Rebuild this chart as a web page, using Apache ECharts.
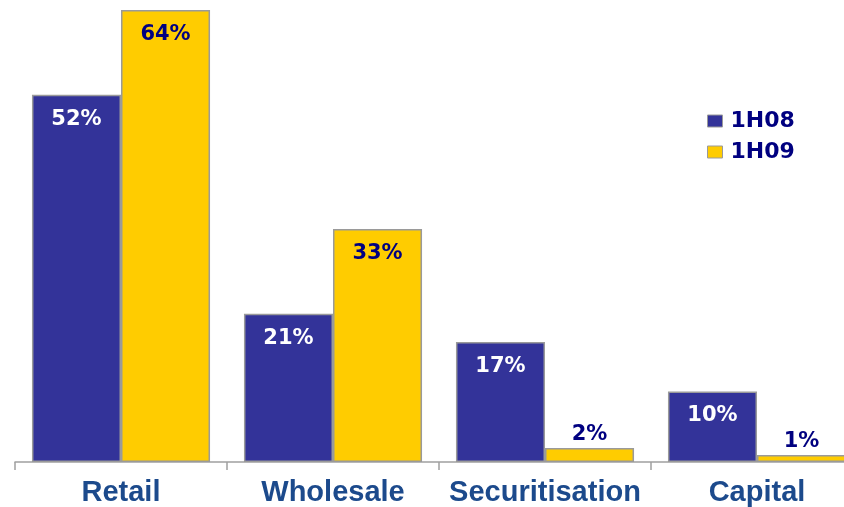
<!DOCTYPE html>
<html>
<head>
<meta charset="utf-8">
<script src="https://cdn.jsdelivr.net/npm/echarts@6/dist/echarts.min.js"></script>
<style>
  html, body { margin: 0; padding: 0; background: #fff; overflow: hidden; }
  /* the plot runs a little past the right edge of the page */
  #chart { width: 863px; height: 507px; }
</style>
</head>
<body>
<div id="chart"></div>
<script>
// Revenue mix by business line, first half 2008 vs first half 2009 (%)
const categories = ['Retail', 'Wholesale', 'Securitisation', 'Capital'];
const share1H08 = [52, 21, 17, 10];
const share1H09 = [64, 33, 2, 1];
const seriesNames = ['1H08', '1H09'];

const chart = echarts.init(document.getElementById('chart'));

const barBorder = { borderColor: '#9a9a9a', borderWidth: 1.5 };
const valueFont = {
  fontFamily: 'DejaVu Sans, Verdana, sans-serif',
  fontWeight: 'bold',
  fontSize: 21
};

chart.setOption({
  animation: false,
  grid: { left: 15, right: 0, top: 3, bottom: 44 },
  legend: {
    orient: 'vertical',
    left: 702,
    top: 105,
    icon: 'rect',
    itemWidth: 15,
    itemHeight: 12,
    itemGap: 9,
    itemStyle: { borderColor: '#9a9a9a', borderWidth: 1 },
    textStyle: {
      fontFamily: 'DejaVu Sans, Verdana, sans-serif',
      fontWeight: 'bold',
      fontSize: 22,
      lineHeight: 22,
      color: '#000080',
      padding: [0, 0, 0, 3]
    },
    data: seriesNames
  },
  xAxis: {
    type: 'category',
    data: categories,
    axisLine: { show: true, lineStyle: { color: '#a0a0a0', width: 1.5 } },
    axisTick: {
      show: true,
      interval: 0,
      alignWithLabel: false,
      length: 8,
      lineStyle: { color: '#a0a0a0', width: 1.5 }
    },
    axisLabel: {
      interval: 0,
      margin: 16,
      fontFamily: 'Liberation Sans, Arial, sans-serif',
      fontWeight: 'bold',
      fontSize: 29,
      color: '#1c4a8c'
    }
  },
  yAxis: {
    type: 'value',
    min: 0,
    max: 65,
    show: false,
    splitLine: { show: false }
  },
  series: [
    {
      name: seriesNames[0],
      type: 'bar',
      data: share1H08,
      barGap: 0,
      barCategoryGap: '16%',
      itemStyle: Object.assign({ color: '#333399' }, barBorder),
      label: Object.assign({
        show: true,
        position: 'insideTop',
        distance: 14,
        formatter: '{c}%',
        color: '#ffffff'
      }, valueFont)
    },
    {
      name: seriesNames[1],
      type: 'bar',
      // short bars cannot hold their label, so those sit just above the bar
      data: share1H09.map(function (v) {
        return v < 5
          ? { value: v, label: { position: 'top', distance: 3 } }
          : v;
      }),
      itemStyle: Object.assign({ color: '#ffcc00' }, barBorder),
      label: Object.assign({
        show: true,
        position: 'insideTop',
        distance: 14,
        formatter: '{c}%',
        color: '#000080'
      }, valueFont)
    }
  ]
});
</script>
</body>
</html>
